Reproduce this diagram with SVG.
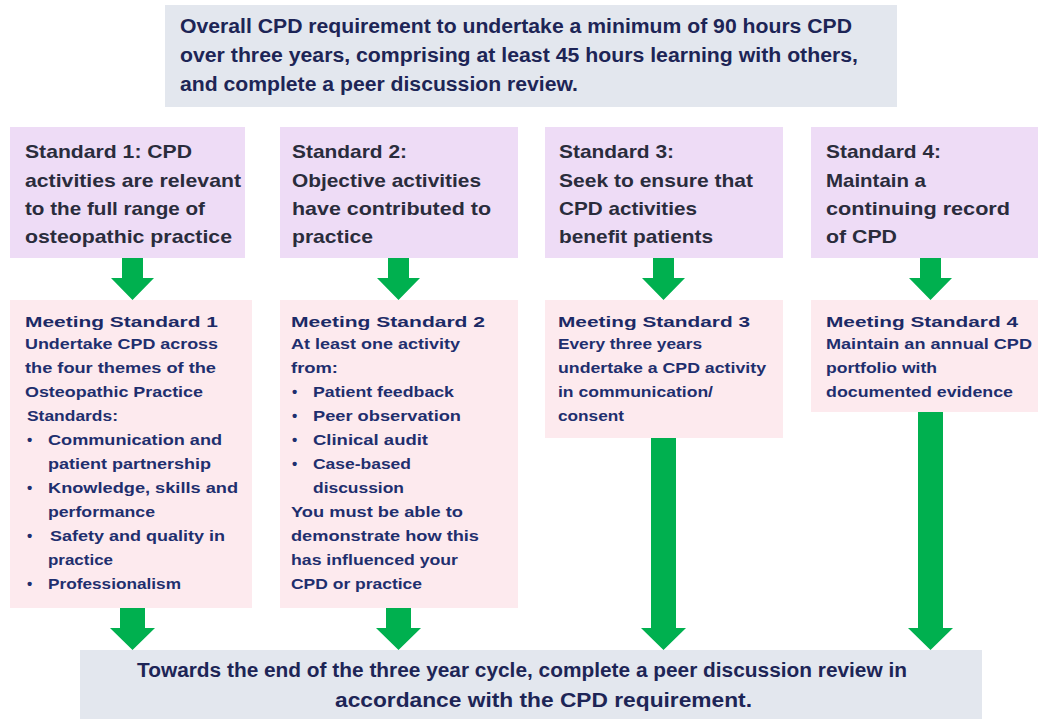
<svg xmlns="http://www.w3.org/2000/svg" width="1038" height="719" viewBox="0 0 1038 719">
<style>
.grey{fill:#e3e7ee}
.lav{fill:#eedcf6}
.pink{fill:#fdeaee}
.arr{fill:#00b04f}
text{font-family:"Liberation Sans",Arial,sans-serif;font-weight:bold}
.top{font-size:20px;fill:#1d2556}
.std{font-size:19px;fill:#2a2c3c}
.mt{font-size:15.5px;fill:#1c2a66}
.mb{font-size:15px;fill:#1f2f6e;font-weight:bold}
</style>
<rect width="1038" height="719" fill="#ffffff"/>
<g id="overall">
<rect class="grey" x="165" y="5" width="732" height="102"/>
<text class="top" x="180" y="33" textLength="672" lengthAdjust="spacingAndGlyphs">Overall CPD requirement to undertake a minimum of 90 hours CPD</text>
<text class="top" x="180" y="62" textLength="678" lengthAdjust="spacingAndGlyphs">over three years, comprising at least 45 hours learning with others,</text>
<text class="top" x="180" y="91" textLength="398" lengthAdjust="spacingAndGlyphs">and complete a peer discussion review.</text>
</g>
<g id="standard1">
<rect class="lav" x="10" y="127" width="235" height="131"/>
<text class="std" x="25" y="158" textLength="167" lengthAdjust="spacingAndGlyphs">Standard 1: CPD</text>
<text class="std" x="25" y="187" textLength="216" lengthAdjust="spacingAndGlyphs">activities are relevant</text>
<text class="std" x="25" y="215" textLength="180" lengthAdjust="spacingAndGlyphs">to the full range of</text>
<text class="std" x="25" y="243" textLength="207" lengthAdjust="spacingAndGlyphs">osteopathic practice</text>
</g>
<g id="standard2">
<rect class="lav" x="280" y="127" width="238" height="131"/>
<text class="std" x="292" y="158" textLength="115" lengthAdjust="spacingAndGlyphs">Standard 2:</text>
<text class="std" x="292" y="187" textLength="189" lengthAdjust="spacingAndGlyphs">Objective activities</text>
<text class="std" x="292" y="215" textLength="199" lengthAdjust="spacingAndGlyphs">have contributed to</text>
<text class="std" x="292" y="243" textLength="81" lengthAdjust="spacingAndGlyphs">practice</text>
</g>
<g id="standard3">
<rect class="lav" x="545" y="127" width="238" height="131"/>
<text class="std" x="559" y="158" textLength="115" lengthAdjust="spacingAndGlyphs">Standard 3:</text>
<text class="std" x="559" y="187" textLength="194" lengthAdjust="spacingAndGlyphs">Seek to ensure that</text>
<text class="std" x="559" y="215" textLength="138" lengthAdjust="spacingAndGlyphs">CPD activities</text>
<text class="std" x="559" y="243" textLength="154" lengthAdjust="spacingAndGlyphs">benefit patients</text>
</g>
<g id="standard4">
<rect class="lav" x="811" y="127" width="227" height="131"/>
<text class="std" x="826" y="158" textLength="115" lengthAdjust="spacingAndGlyphs">Standard 4:</text>
<text class="std" x="826" y="187" textLength="100" lengthAdjust="spacingAndGlyphs">Maintain a</text>
<text class="std" x="826" y="215" textLength="184" lengthAdjust="spacingAndGlyphs">continuing record</text>
<text class="std" x="826" y="243" textLength="71" lengthAdjust="spacingAndGlyphs">of CPD</text>
</g>
<g id="meeting1">
<rect class="pink" x="10" y="300" width="242" height="308"/>
<text class="mt" x="25" y="327" textLength="193" lengthAdjust="spacingAndGlyphs">Meeting Standard 1</text>
<text class="mb" x="25" y="349" textLength="193" lengthAdjust="spacingAndGlyphs">Undertake CPD across</text>
<text class="mb" x="25" y="373" textLength="191" lengthAdjust="spacingAndGlyphs">the four themes of the</text>
<text class="mb" x="25" y="397" textLength="178" lengthAdjust="spacingAndGlyphs">Osteopathic Practice</text>
<text class="mb" x="27" y="421" textLength="91" lengthAdjust="spacingAndGlyphs">Standards:</text>
<text class="mb" x="27" y="445">•</text>
<text class="mb" x="48" y="445" textLength="174" lengthAdjust="spacingAndGlyphs">Communication and</text>
<text class="mb" x="48" y="469" textLength="163" lengthAdjust="spacingAndGlyphs">patient partnership</text>
<text class="mb" x="27" y="493">•</text>
<text class="mb" x="48" y="493" textLength="190" lengthAdjust="spacingAndGlyphs">Knowledge, skills and</text>
<text class="mb" x="48" y="517" textLength="107" lengthAdjust="spacingAndGlyphs">performance</text>
<text class="mb" x="27" y="541">•</text>
<text class="mb" x="50" y="541" textLength="175" lengthAdjust="spacingAndGlyphs">Safety and quality in</text>
<text class="mb" x="48" y="565" textLength="65" lengthAdjust="spacingAndGlyphs">practice</text>
<text class="mb" x="27" y="589">•</text>
<text class="mb" x="48" y="589" textLength="133" lengthAdjust="spacingAndGlyphs">Professionalism</text>
</g>
<g id="meeting2">
<rect class="pink" x="280" y="300" width="238" height="308"/>
<text class="mt" x="291" y="327" textLength="194" lengthAdjust="spacingAndGlyphs">Meeting Standard 2</text>
<text class="mb" x="291" y="349" textLength="169" lengthAdjust="spacingAndGlyphs">At least one activity</text>
<text class="mb" x="291" y="373" textLength="47" lengthAdjust="spacingAndGlyphs">from:</text>
<text class="mb" x="292" y="397">•</text>
<text class="mb" x="313" y="397" textLength="141" lengthAdjust="spacingAndGlyphs">Patient feedback</text>
<text class="mb" x="292" y="421">•</text>
<text class="mb" x="313" y="421" textLength="148" lengthAdjust="spacingAndGlyphs">Peer observation</text>
<text class="mb" x="292" y="445">•</text>
<text class="mb" x="313" y="445" textLength="115" lengthAdjust="spacingAndGlyphs">Clinical audit</text>
<text class="mb" x="292" y="469">•</text>
<text class="mb" x="313" y="469" textLength="98" lengthAdjust="spacingAndGlyphs">Case-based</text>
<text class="mb" x="313" y="493" textLength="91" lengthAdjust="spacingAndGlyphs">discussion</text>
<text class="mb" x="291" y="517" textLength="172" lengthAdjust="spacingAndGlyphs">You must be able to</text>
<text class="mb" x="291" y="541" textLength="188" lengthAdjust="spacingAndGlyphs">demonstrate how this</text>
<text class="mb" x="291" y="565" textLength="167" lengthAdjust="spacingAndGlyphs">has influenced your</text>
<text class="mb" x="291" y="589" textLength="131" lengthAdjust="spacingAndGlyphs">CPD or practice</text>
</g>
<g id="meeting3">
<rect class="pink" x="545" y="300" width="238" height="138"/>
<text class="mt" x="558" y="327" textLength="192" lengthAdjust="spacingAndGlyphs">Meeting Standard 3</text>
<text class="mb" x="558" y="349" textLength="144" lengthAdjust="spacingAndGlyphs">Every three years</text>
<text class="mb" x="558" y="373" textLength="208" lengthAdjust="spacingAndGlyphs">undertake a CPD activity</text>
<text class="mb" x="558" y="397" textLength="155" lengthAdjust="spacingAndGlyphs">in communication/</text>
<text class="mb" x="558" y="421" textLength="66" lengthAdjust="spacingAndGlyphs">consent</text>
</g>
<g id="meeting4">
<rect class="pink" x="811" y="300" width="227" height="112"/>
<text class="mt" x="826" y="327" textLength="192" lengthAdjust="spacingAndGlyphs">Meeting Standard 4</text>
<text class="mb" x="826" y="349" textLength="206" lengthAdjust="spacingAndGlyphs">Maintain an annual CPD</text>
<text class="mb" x="826" y="373" textLength="111" lengthAdjust="spacingAndGlyphs">portfolio with</text>
<text class="mb" x="826" y="397" textLength="187" lengthAdjust="spacingAndGlyphs">documented evidence</text>
</g>
<g id="final">
<rect class="grey" x="80" y="650" width="902" height="69"/>
<text class="top" x="137" y="677" textLength="770" lengthAdjust="spacingAndGlyphs">Towards the end of the three year cycle, complete a peer discussion review in</text>
<text class="top" x="335" y="707" textLength="417" lengthAdjust="spacingAndGlyphs">accordance with the CPD requirement.</text>
</g>
<g id="connectors">
<polygon class="arr" points="122,258 143,258 143,278 154,278 132.5,300 111,278 122,278"/>
<polygon class="arr" points="388,258 409,258 409,278 420,278 398.5,300 377,278 388,278"/>
<polygon class="arr" points="653,258 674,258 674,278 685,278 663.5,300 642,278 653,278"/>
<polygon class="arr" points="920,258 941,258 941,278 952,278 930.5,300 909,278 920,278"/>
<polygon class="arr" points="120,608 145,608 145,628 155,628 132.5,650 110,628 120,628"/>
<polygon class="arr" points="386,608 411,608 411,628 421,628 398.5,650 376,628 386,628"/>
<polygon class="arr" points="651,438 676,438 676,628 686,628 663.5,650 641,628 651,628"/>
<polygon class="arr" points="918,412 943,412 943,628 953,628 930.5,650 908,628 918,628"/>
</g>
</svg>
